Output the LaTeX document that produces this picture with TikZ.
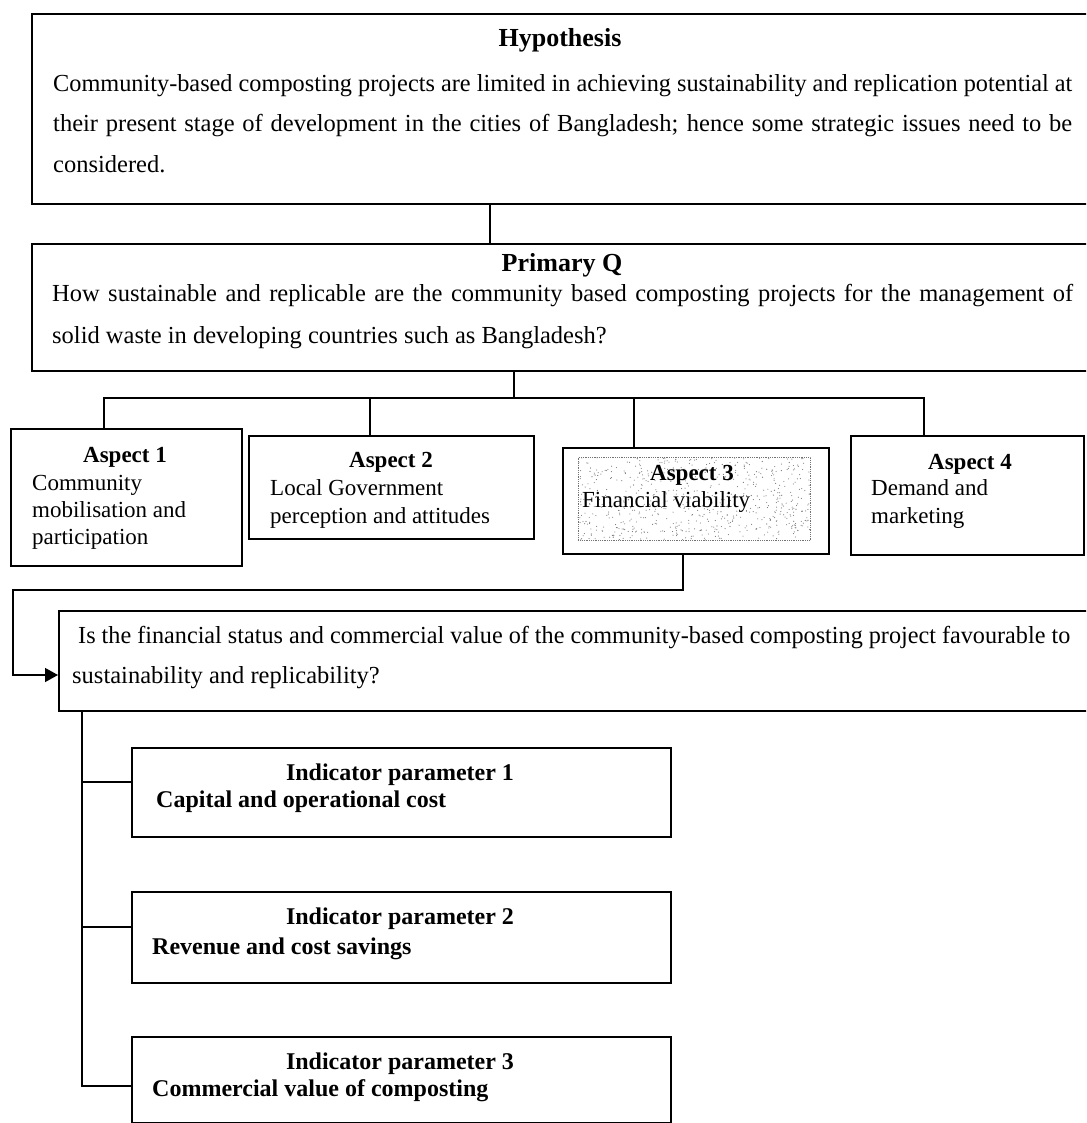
\documentclass[tikz,border=0pt]{standalone}
\usepackage{fontspec}
\setmainfont{Liberation Serif}
\usetikzlibrary{arrows.meta}
% set a line to an exact width: stretch the spaces if it is short,
% squeeze it sideways if it is long
\newlength\fitw
\newcommand\fitline[2]{\settowidth\fitw{#2}%
  \ifdim\fitw>#1\relax\resizebox{#1}{\height}{#2}\else\makebox[#1][s]{#2}\fi}
\begin{document}
\begin{tikzpicture}[x=1pt,y=-1pt,
  box/.style={draw, line width=1.7pt, inner sep=0pt, anchor=north west},
  link/.style={line width=1.5pt},
  txt/.style={inner sep=0pt, anchor=base west},
  ttl/.style={inner sep=0pt, anchor=base},
  big/.style={font=\fontsize{24.5}{29}\selectfont},
  bigb/.style={font=\fontsize{26}{30}\selectfont\bfseries},
  mid/.style={font=\fontsize{23}{27}\selectfont},
  midb/.style={font=\fontsize{23}{27}\selectfont\bfseries},
  ind/.style={font=\fontsize{24}{28}\selectfont\bfseries}
]
\clip (0,0) rectangle (1086,1123);
\fill[white] (0,0) rectangle (1086,1123);

% ---------- boxes ----------
\node[box, minimum width=1061pt, minimum height=190pt] (hyp) at (31,13) {};
\node[box, minimum width=1061pt, minimum height=127pt] (prim) at (31,243) {};
\node[box, minimum width=231pt, minimum height=137pt] (a1) at (10,428) {};
\node[box, minimum width=285pt, minimum height=103pt] (a2) at (248,435) {};
\node[box, minimum width=266pt, minimum height=106pt] (a3) at (562,447) {};
\node[box, minimum width=233pt, minimum height=119pt] (a4) at (850,435) {};
\node[box, minimum width=1033pt, minimum height=100pt] (q) at (58,610) {};
\node[box, minimum width=539pt, minimum height=89pt] (i1) at (131,747) {};
\node[box, minimum width=539pt, minimum height=91pt] (i2) at (131,891) {};
\node[box, minimum width=539pt, minimum height=86pt] (i3) at (131,1036) {};

% stippled panel inside Aspect 3
\node[draw=black!55, densely dotted, line width=0.8pt, inner sep=0pt, anchor=north west,
      minimum width=232pt, minimum height=83pt] (a3in) at (578,457) {};
\pgfmathsetseed{41}
\foreach \k in {1,...,650}{
  \fill[black!55] ({578+232*rnd},{457+83*rnd}) circle (0.55pt);
}

% ---------- connectors ----------
\draw[link] (hyp.south -| 490,0) -- (prim.north -| 490,0);

\coordinate (busL) at (104,398);
\coordinate (busR) at (924,398);
\draw[link] (prim.south -| 514,0) -- (514,398);
\draw[link] (a1.north -| busL) -- (busL) -- (busR) -- (a4.north -| busR);
\draw[link] (a2.north -| 370,0) -- (370,398);
\draw[link] (a3.north -| 634,0) -- (634,398);

\draw[link, -{Triangle[length=13pt,width=14pt]}]
  (a3.south -| 683,0) -- (683,590) -- (13,590) -- (13,675) -- (q.west |- 0,675);

\draw[link] (q.south -| 82,0) -- (82,1087);
\draw[link] (82,782) -- (i1.west |- 0,782);
\draw[link] (82,927) -- (i2.west |- 0,927);
\draw[link] (82,1086) -- (i3.west |- 0,1086);

% ---------- texts ----------
\node[ttl, bigb] (hypT) at (560,47) {Hypothesis};
\node[txt, big] (hypA) at (53,92) {\fitline{1019pt}{Community-based composting projects are limited in achieving sustainability and replication potential at}};
\node[txt, big] (hypB) at (53,132) {\fitline{1019pt}{their present stage of development in the cities of Bangladesh; hence some strategic issues need to be}};
\node[txt, big] (hypC) at (53,173) {considered.};

\node[ttl, bigb] (primT) at (562,271) {Primary Q};
\node[txt, big] (primA) at (52,301) {\fitline{1021pt}{How sustainable and replicable are the community based composting projects for the management of}};
\node[txt, big] (primB) at (52,343) {solid waste in developing countries such as Bangladesh?};

\node[ttl, midb] (a1T) at (125,462) {Aspect 1};
\node[txt, mid] (a1A) at (32,490) {Community};
\node[txt, mid] (a1B) at (32,517) {mobilisation and};
\node[txt, mid] (a1C) at (32,544) {participation};

\node[ttl, midb] (a2T) at (391,467) {Aspect 2};
\node[txt, mid] (a2A) at (270,495) {Local Government};
\node[txt, mid] (a2B) at (270,523) {perception and attitudes};

\node[ttl, midb] (a3T) at (692,480) {Aspect 3};
\node[txt, mid] (a3A) at (582,507) {Financial viability};

\node[ttl, midb] (a4T) at (970,469) {Aspect 4};
\node[txt, mid] (a4A) at (871,495) {Demand and};
\node[txt, mid] (a4B) at (871,523) {marketing};

\node[txt, big] (qA) at (78,643) {\fitline{992pt}{Is the financial status and commercial value of the community-based composting project favourable to}};
\node[txt, big] (qB) at (72,683) {sustainability and replicability?};

\node[ttl, ind] (i1T) at (400,780) {Indicator parameter 1};
\node[txt, ind] (i1A) at (156,807) {Capital and operational cost};
\node[ttl, ind] (i2T) at (400,924) {Indicator parameter 2};
\node[txt, ind] (i2A) at (152,954) {Revenue and cost savings};
\node[ttl, ind] (i3T) at (400,1069) {Indicator parameter 3};
\node[txt, ind] (i3A) at (152,1096) {Commercial value of composting};
\end{tikzpicture}
\end{document}
